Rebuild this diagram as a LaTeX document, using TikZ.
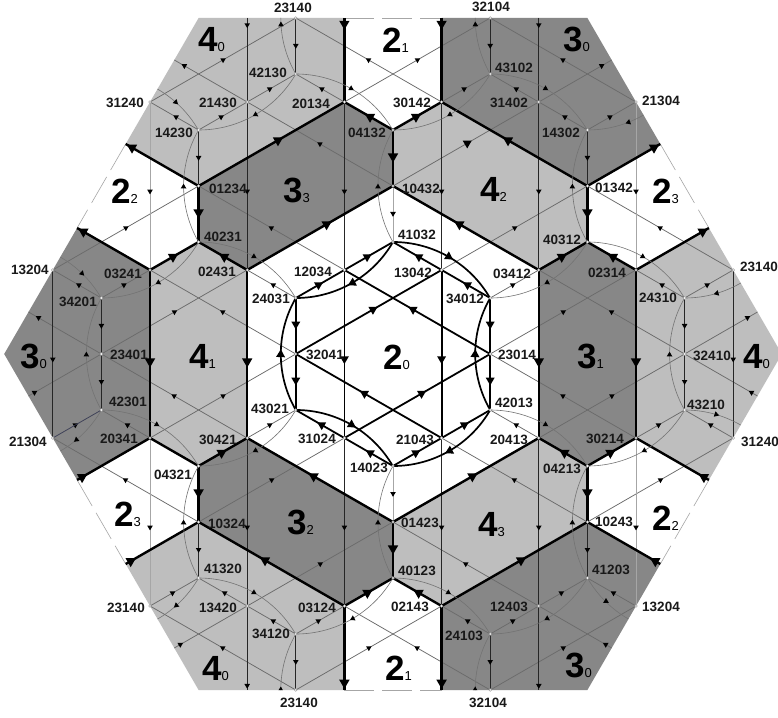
\documentclass[tikz,border=0pt]{standalone}
\usepackage{fontspec}
\setmainfont{Liberation Sans}
\usetikzlibrary{arrows.meta,decorations.markings}
\definecolor{dk}{HTML}{878787}
\definecolor{lt}{HTML}{BEBEBE}
\definecolor{bluish}{HTML}{3C3F5A}
\tikzset{
  smalltip/.tip={Triangle[length=4.8pt,width=5.6pt,line width=0pt,color=black,fill=black]},
  medtip/.tip={Triangle[length=7.8pt,width=9pt,line width=0pt,color=black,fill=black]},
  bigtip/.tip={Triangle[length=9pt,width=10.4pt,line width=0pt,color=black,fill=black]},
  sarr/.style={postaction={decorate,decoration={markings,mark=at position #1 with {\arrow{smalltip}}}}},
  marr/.style={postaction={decorate,decoration={markings,mark=at position #1 with {\arrow{medtip}}}}},
  barr/.style={postaction={decorate,decoration={markings,mark=at position #1 with {\arrow{bigtip}}}}},
  grayline/.style={draw=black!58,line width=.75pt},
  pale/.style={draw=black!35,line width=.9pt},
  blackline/.style={draw=black!85,line width=.75pt},
  thickline/.style={draw=black,line width=2.4pt},
  innerline/.style={draw=black,line width=1.8pt},
  arcline/.style={draw=black!55,line width=.6pt},
  innerarc/.style={draw=black,line width=1.7pt},
  bound/.style={draw=black!35,line width=.6pt,dash pattern=on 30pt off 8pt},
  dot/.style={circle,draw=black!45,fill=white,line width=.3pt,inner sep=0pt,minimum size=2.8pt},
  lab/.style={inner sep=0pt,text=black!90,font=\fontsize{13.5}{13.5}\selectfont\bfseries},
  biglb/.style={inner sep=0pt,anchor=base west,text=black},
}
\newcommand\lb[4]{\node[lab] (#1) at ({(#2-393)*1pt},{(354-#3)*1pt}) {#4};}
\newcommand\biglab[5]{\node[biglb] (#1) at ({(#2-393)*1pt},{(354-#3)*1pt}) {\fontsize{35}{35}\selectfont\bfseries #4\fontsize{13}{13}\selectfont\mdseries #5};}
\begin{document}
\begin{tikzpicture}[x=48.6pt,y=28pt]
\useasboundingbox (-393pt,-363pt) rectangle (385pt,354pt);
\clip (-393pt,-363pt) rectangle (385pt,354pt);
\fill[white] (-393pt,-363pt) rectangle (385pt,354pt);
% lattice vertices
\foreach \i/\j in {-2/12,2/12,-2/10,2/10,-5/9,-3/9,-1/9,1/9,3/9,5/9,-4/8,0/8,4/8,-4/6,0/6,4/6,-4/4,0/4,4/4,
  -7/3,-5/3,-3/3,-1/3,1/3,3/3,5/3,7/3,-6/2,-2/2,2/2,6/2,-6/0,-2/0,2/0,6/0,-6/-2,-2/-2,2/-2,6/-2,
  -7/-3,-5/-3,-3/-3,-1/-3,1/-3,3/-3,5/-3,7/-3,-4/-4,0/-4,4/-4,-4/-6,0/-6,4/-6,-4/-8,0/-8,4/-8,
  -5/-9,-3/-9,-1/-9,1/-9,3/-9,5/-9,-2/-10,2/-10,-2/-12,2/-12}
  {\coordinate (v\i_\j) at (\i,\j);}
% boundary and off-hexagon points
\foreach \n/\x/\y in {-4_12/-4/12,4_12/4/12,8_0/8/0,4_-12/4/-12,-4_-12/-4/-12,-8_0/-8/0,
  -1_12/-1/12,1_12/1/12,-1_-12/-1/-12,1_-12/1/-12,-3_12/-3/12,3_12/3/12,-3_-12/-3/-12,3_-12/3/-12,
  -5h5_7h5/-5.5/7.5,-6h5_4h5/-6.5/4.5,-6h5_-4h5/-6.5/-4.5,-5h5_-7h5/-5.5/-7.5,
  5h5_7h5/5.5/7.5,6h5_4h5/6.5/4.5,6h5_-4h5/6.5/-4.5,5h5_-7h5/5.5/-7.5,
  -7h5_1h5/-7.5/1.5,-7h5_-1h5/-7.5/-1.5,7h5_1h5/7.5/1.5,7h5_-1h5/7.5/-1.5,
  -4h5_10h5/-4.5/10.5,4h5_10h5/4.5/10.5,-4h5_-10h5/-4.5/-10.5,4h5_-10h5/4.5/-10.5,
  -2_-14/-2/-14,2_-14/2/-14,-6_10/-6/10,-8_4/-8/4,6_10/6/10,8_4/8/4}
  {\coordinate (v\n) at (\x,\y);}
% regions
\fill[lt] (v-3_3)--(v-4_4)--(v-5_3)--(v-5_-3)--(v-4_-4)--(v-3_-3)--cycle;
\fill[dk] (v-4_6)--(v-1_9)--(v0_8)--(v0_6)--(v-3_3)--(v-4_4)--cycle;
\fill[lt] (v1_9)--(v4_6)--(v4_4)--(v3_3)--(v0_6)--(v0_8)--cycle;
\fill[dk] (v3_3)--(v4_4)--(v5_3)--(v5_-3)--(v4_-4)--(v3_-3)--cycle;
\fill[lt] (v3_-3)--(v4_-4)--(v4_-6)--(v1_-9)--(v0_-8)--(v0_-6)--cycle;
\fill[dk] (v-3_-3)--(v-4_-4)--(v-4_-6)--(v-1_-9)--(v0_-8)--(v0_-6)--cycle;
\fill[lt] (v-4_12)--(v-1_12)--(v-1_9)--(v-4_6)--(v-5h5_7h5)--cycle;
\fill[dk] (v1_12)--(v4_12)--(v5h5_7h5)--(v4_6)--(v1_9)--cycle;
\fill[dk] (v-6h5_4h5)--(v-5_3)--(v-5_-3)--(v-6h5_-4h5)--(v-8_0)--cycle;
\fill[lt] (v-5h5_-7h5)--(v-4_-6)--(v-1_-9)--(v-1_-12)--(v-4_-12)--cycle;
\fill[dk] (v1_-12)--(v1_-9)--(v4_-6)--(v5h5_-7h5)--(v4_-12)--cycle;
\fill[lt] (v6h5_-4h5)--(v5_-3)--(v5_3)--(v6h5_4h5)--(v8_0)--cycle;
% dashed edge of the white regions
\foreach \a/\b in {-1_12/1_12,-5h5_7h5/-6h5_4h5,5h5_7h5/6h5_4h5,-6h5_-4h5/-5h5_-7h5,6h5_-4h5/5h5_-7h5,-1_-12/1_-12}
  {\draw[bound] (v\a)--(v\b);}
% thin slanted edges, arrow in the middle
\foreach \a/\b in {-5_9/-2_12,-4_8/-3_9,-3_9/-2_10,-7_3/-4_6,-1_9/2_12,-6_2/-5_3,1_9/2_10,-6_0/-3_3,
  4_8/5_9,-5_-3/-2_0,1_3/4_6,-3_-3/-2_-2,2_2/3_3,-4_-6/-1_-3,2_0/5_3,-5_-9/-4_-8,6_2/7_3,
  -3_-9/0_-6,3_-3/6_0,-2_-10/-1_-9,5_-3/6_-2,-2_-12/1_-9,4_-6/7_-3,2_-10/3_-9,3_-9/4_-8,2_-12/5_-9,
  -2_-12/-5_-9,-2_-10/-3_-9,-3_-9/-4_-8,2_-12/-1_-9,-4_-6/-7_-3,-5_-3/-6_-2,2_-10/1_-9,-3_-3/-6_0,3_-9/0_-6,
  -6_2/-7_3,5_-9/4_-8,-2_0/-5_3,4_-6/1_-3,-2_2/-3_3,3_-3/2_-2,-1_3/-4_6,5_-3/2_0,-4_8/-5_9,7_-3/6_-2,
  0_6/-3_9,6_0/3_3,-1_9/-2_10,6_2/5_3,1_9/-2_12,7_3/4_6,4_8/3_9,3_9/2_10,5_9/2_12,-7_-3/-6_-2}
  {\draw[grayline,sarr=.52] (v\a)--(v\b);}
\draw[bluish,line width=.6pt] (v-7_-3)--(v-6_-2);
\draw[grayline,marr=.54] (v0_6)--(v3_9);
% thin slanted edges ending on the border
\foreach \a/\b in {-7h5_-1h5/-6_0,-4h5_-10h5/-3_-9,4h5_-10h5/3_-9,7h5_-1h5/6_0}
  {\draw[grayline,sarr=.12] (v\a)--(v\b);}
\foreach \a/\b in {3_9/4h5_10h5,6_0/7h5_1h5,-6_0/-7h5_1h5,-3_9/-4h5_10h5}
  {\draw[grayline,sarr=.9] (v\a)--(v\b);}
% thin vertical edges
\foreach \a/\b in {-3_9/-3_3,-3_-3/-3_-9,-1_9/-1_3,-1_-3/-1_-9,1_9/1_3,1_-3/1_-9,3_9/3_3,3_-3/3_-9,
  -7_3/-7_-3,7_3/7_-3,-4_8/-4_6,-4_-6/-4_-8,4_8/4_6,4_-6/4_-8,-2_12/-2_10,-2_-10/-2_-12,2_12/2_10,2_-10/2_-12,
  -6_2/-6_0,-6_0/-6_-2,6_2/6_0,6_0/6_-2}
  {\draw[blackline,sarr=.55] (v\a)--(v\b);}
\foreach \a/\b in {-5_9/-5_3,-5_-3/-5_-9,5_9/5_3,5_-3/5_-9,0_6/0_4,0_-4/0_-6}
  {\draw[pale,sarr=.55] (v\a)--(v\b);}
\foreach \a/\b in {-3_12/-3_9,3_12/3_9}{\draw[blackline,sarr=.12] (v\a)--(v\b);}
\foreach \a/\b in {-3_-9/-3_-12,3_-9/3_-12}{\draw[blackline,sarr=.985] (v\a)--(v\b);}
% thick edges
\foreach \a/\b in {-5_3/-4_4,-4_-4/-3_-3,-4_6/-1_9,-3_3/0_6,0_8/1_9,3_3/4_4,-1_-9/0_-8,0_-6/3_-3,1_-9/4_-6,4_-4/5_-3,
  -3_3/-4_4,-1_-9/-4_-6,0_-6/-3_-3,1_-9/0_-8,4_-4/3_-3,0_8/-1_9,3_3/0_6,4_6/1_9,5_3/4_4,
  -3_3/-3_-3,3_3/3_-3,-5_3/-5_-3,5_3/5_-3,-4_6/-4_4,-4_-4/-4_-6,4_6/4_4,4_-4/4_-6,0_8/0_6,0_-6/0_-8}
  {\draw[thickline,barr=.58] (v\a)--(v\b);}
\draw[thickline] (v-4_-4)--(v-5_-3);
\foreach \a/\b in {-6h5_-4h5/-5_-3,-5h5_-7h5/-4_-6,5h5_-7h5/4_-6,6h5_-4h5/5_-3,-1_12/-1_9,1_12/1_9}
  {\draw[thickline,barr=.14] (v\a)--(v\b);}
\foreach \a/\b in {4_6/5h5_7h5,5_3/6h5_4h5,-5_3/-6h5_4h5,-4_6/-5h5_7h5,-1_-9/-1_-12,1_-9/1_-12}
  {\draw[thickline,barr=.985] (v\a)--(v\b);}
% inner star and hexagon edges
\foreach \a/\b in {-2_2/-1_3,-1_3/0_4,-2_0/1_3,-1_-3/2_0,0_-4/1_-3,1_-3/2_-2,
  2_0/-1_3,1_-3/-2_0,2_2/1_3,1_3/0_4,-1_-3/-2_-2,0_-4/-1_-3,
  -1_3/-1_-3,1_3/1_-3,-2_2/-2_0,-2_0/-2_-2,2_2/2_0,2_0/2_-2}
  {\draw[innerline,marr=.56] (v\a)--(v\b);}
% arcs
\begin{scope}
\clip (v-4_12)--(v4_12)--(v8_0)--(v4_-12)--(v-4_-12)--(v-8_0)--cycle;
\foreach \s/\p in {-6_-2/.52,6_-2/.52,-4_4/.52,0_4/.52,4_4/.52,-2_10/.47,2_10/.47,-4_-8/.52,0_-8/.52,4_-8/.52,-2_-14/.53,2_-14/.53}
  {\draw[arcline,sarr=\p] (v\s) arc[start angle=210,end angle=150,radius=112pt];}
\foreach \s/\p in {-4_4/.52,4_4/.52,-2_10/.52,2_10/.52,-6_10/.72,-8_4/.76,2_-2/.52,-6_-2/.52,6_-2/.3,-4_-8/.52,0_-8/.52}
  {\draw[arcline,sarr=\p] (v\s) arc[start angle=90,end angle=30,radius=112pt];}
\foreach \s/\p in {-2_-2/.52,6_-2/.52,4_4/.52,8_4/.75,-4_4/.52,-6_-2/.36,0_-8/.52,4_-8/.52,-4_-8/.33,2_10/.52,6_10/.67,-2_10/.52}
  {\draw[arcline,sarr=\p] (v\s) arc[start angle=-30,end angle=-90,radius=112pt];}
\draw[arcline] (v4_-8) arc[start angle=210,end angle=255,radius=112pt];
\end{scope}
\fill[black] (213pt,-244pt) -- ++(-2.8pt,-4.8pt) -- ++(5.6pt,0) -- cycle;
\foreach \s in {-2_-2,2_-2}{\draw[innerarc,marr=.54] (v\s) arc[start angle=210,end angle=150,radius=112pt];}
\foreach \s in {0_4,-2_-2}{\draw[innerarc,marr=.54] (v\s) arc[start angle=90,end angle=30,radius=112pt];}
\foreach \s in {2_-2,0_4}{\draw[innerarc,marr=.54] (v\s) arc[start angle=-30,end angle=-90,radius=112pt];}
% vertex dots
\foreach \i/\j in {-2/12,2/12,-2/10,2/10,-5/9,-3/9,-1/9,1/9,3/9,5/9,-4/8,0/8,4/8,-4/6,0/6,4/6,-4/4,0/4,4/4,
  -7/3,-5/3,-3/3,-1/3,1/3,3/3,5/3,7/3,-6/2,-2/2,2/2,6/2,-6/0,-2/0,2/0,6/0,-6/-2,-2/-2,2/-2,6/-2,
  -7/-3,-5/-3,-3/-3,-1/-3,1/-3,3/-3,5/-3,7/-3,-4/-4,0/-4,4/-4,-4/-6,0/-6,4/-6,-4/-8,0/-8,4/-8,
  -5/-9,-3/-9,-1/-9,1/-9,3/-9,5/-9,-2/-10,2/-10,-2/-12,2/-12}
  {\node[dot] (d\i_\j) at (v\i_\j) {};}
% vertex labels
\lb{ta}{293}{8}{23140}\lb{tb}{268}{73}{42130}\lb{tc}{125}{103}{31240}\lb{td}{218}{103}{21430}
\lb{te}{311}{104}{20134}\lb{tf}{174}{133}{14230}\lb{tg}{367}{133}{04132}\lb{th}{228}{189}{01234}
\lb{ti}{223}{237}{40231}\lb{tj}{30}{270}{13204}\lb{tk}{123}{274}{03241}\lb{tl}{217}{272}{02431}
\lb{tm}{313}{272}{12034}\lb{tn}{78}{302}{34201}\lb{to}{271}{299}{24031}\lb{tp}{129}{355}{23401}
\lb{tq}{325}{355}{32041}
\lb{ua}{491}{7}{32104}\lb{ub}{514}{68}{43102}\lb{uc}{412}{103}{30142}\lb{ud}{509}{103}{31402}
\lb{ue}{661}{101}{21304}\lb{uf}{561}{133}{14302}\lb{ug}{421}{189}{10432}\lb{uh}{614}{188}{01342}
\lb{ui}{562}{240}{40312}\lb{uj}{417}{235}{41032}\lb{uk}{413}{273}{13042}\lb{ul}{512}{274}{03412}
\lb{um}{607}{273}{02314}\lb{un}{759}{267}{23140}\lb{uo}{465}{299}{34012}\lb{up}{658}{298}{24310}
\lb{uq}{517}{355}{23014}\lb{ur}{712}{356}{32410}
\lb{wa}{128}{402}{42301}\lb{wb}{270}{409}{43021}\lb{wc}{28}{442}{21304}\lb{wd}{119}{439}{20341}
\lb{we}{218}{440}{30421}\lb{wf}{317}{439}{31024}\lb{wg}{369}{468}{14023}\lb{wh}{173}{475}{04321}
\lb{wi}{227}{524}{10324}\lb{wj}{223}{569}{41320}\lb{wk}{126}{608}{23140}\lb{wl}{218}{608}{13420}
\lb{wm}{317}{608}{03124}\lb{wn}{271}{634}{34120}\lb{wo}{299}{703}{23140}
\lb{xa}{514}{403}{42013}\lb{xb}{706}{405}{43210}\lb{xc}{415}{440}{21043}\lb{xd}{509}{440}{20413}
\lb{xe}{605}{439}{30214}\lb{xf}{760}{442}{31240}\lb{xg}{562}{469}{04213}\lb{xh}{420}{523}{01423}
\lb{xi}{614}{522}{10243}\lb{xj}{611}{570}{41203}\lb{xk}{417}{571}{40123}\lb{xl}{410}{607}{02143}
\lb{xm}{509}{607}{12403}\lb{xn}{661}{607}{13204}\lb{xo}{464}{636}{24103}\lb{xp}{488}{703}{32104}
% region labels
\biglab{ba}{198}{52}{4}{0}\biglab{bb}{382}{53}{2}{1}\biglab{bc}{563}{52}{3}{0}
\biglab{bd}{111}{204}{2}{2}\biglab{be}{283}{203}{3}{3}\biglab{bf}{480}{202}{4}{2}\biglab{bg}{652}{204}{2}{3}
\biglab{bh}{20}{368}{3}{0}\biglab{bi}{189}{368}{4}{1}\biglab{bj}{383}{369}{2}{0}\biglab{bk}{577}{368}{3}{1}\biglab{bl}{743}{368}{4}{0}
\biglab{bm}{114}{526}{2}{3}\biglab{bn}{287}{534}{3}{2}\biglab{bo}{478}{536}{4}{3}\biglab{bp}{652}{530}{2}{2}
\biglab{bq}{202}{680}{4}{0}\biglab{br}{385}{680}{2}{1}\biglab{bs}{565}{677}{3}{0}
\end{tikzpicture}
\end{document}
